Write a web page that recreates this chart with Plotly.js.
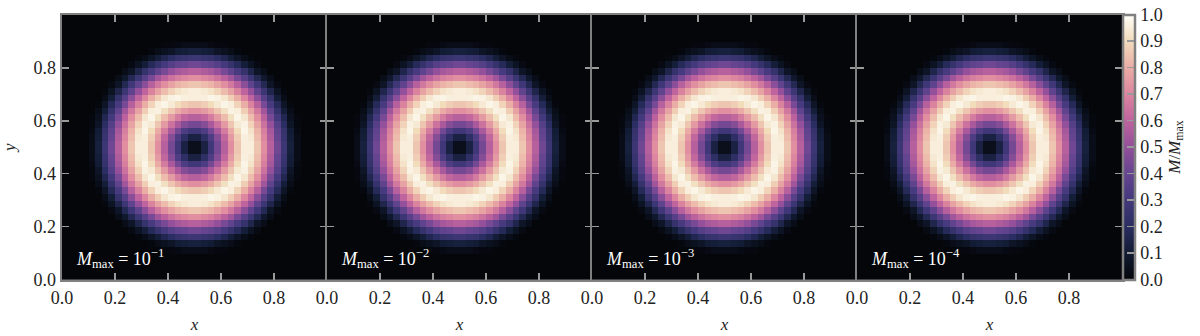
<!DOCTYPE html>
<html>
<head>
<meta charset="utf-8">
<script src="https://cdn.plot.ly/plotly-3.0.1.min.js"></script>
<style>html,body{margin:0;padding:0;background:#fff}</style>
</head>
<body>
<div id="plot" style="width:1200px;height:336px"></div>
<script>
// one quadrant of the ring, first row/column next to the centre
const quadrant = [
  [.04,.13,.28,.43,.58,.72,.85,.95,.95,.85,.72,.58,.42,.27,.12,.03,0,0,0,0],
  [.13,.21,.33,.47,.61,.75,.87,.955,.94,.83,.70,.56,.40,.25,.11,.03,0,0,0,0],
  [.28,.33,.43,.55,.67,.79,.90,.97,.92,.81,.68,.54,.38,.24,.10,.02,0,0,0,0],
  [.43,.47,.55,.64,.75,.85,.94,.96,.88,.77,.64,.50,.35,.20,.07,.01,0,0,0,0],
  [.58,.61,.67,.75,.83,.91,.97,.93,.83,.72,.59,.44,.30,.16,.05,.01,0,0,0,0],
  [.72,.75,.79,.85,.91,.96,.95,.87,.77,.66,.53,.38,.24,.11,.03,0,0,0,0,0],
  [.85,.87,.90,.94,.97,.95,.88,.80,.69,.58,.44,.31,.18,.07,.01,0,0,0,0,0],
  [.95,.955,.97,.96,.93,.87,.80,.70,.60,.48,.36,.24,.11,.03,0,0,0,0,0,0],
  [.95,.94,.92,.88,.83,.77,.69,.60,.50,.38,.27,.15,.06,.01,0,0,0,0,0,0],
  [.85,.83,.81,.77,.72,.66,.58,.48,.38,.28,.17,.07,.02,0,0,0,0,0,0,0],
  [.72,.70,.68,.64,.59,.53,.44,.36,.27,.17,.08,.03,0,0,0,0,0,0,0,0],
  [.58,.56,.54,.50,.44,.38,.31,.24,.15,.07,.03,0,0,0,0,0,0,0,0,0],
  [.42,.40,.38,.35,.30,.24,.18,.11,.06,.02,0,0,0,0,0,0,0,0,0,0],
  [.27,.25,.24,.20,.16,.11,.07,.03,.01,0,0,0,0,0,0,0,0,0,0,0],
  [.12,.11,.10,.07,.05,.03,.01,0,0,0,0,0,0,0,0,0,0,0,0,0],
  [.03,.03,.02,.01,.01,0,0,0,0,0,0,0,0,0,0,0,0,0,0,0],
  [0,0,0,0,0,0,0,0,0,0,0,0,0,0,0,0,0,0,0,0],
  [0,0,0,0,0,0,0,0,0,0,0,0,0,0,0,0,0,0,0,0],
  [0,0,0,0,0,0,0,0,0,0,0,0,0,0,0,0,0,0,0,0],
  [0,0,0,0,0,0,0,0,0,0,0,0,0,0,0,0,0,0,0,0]
];
const exponents = ['−1', '−2', '−3', '−4'];
const tickValues = [0, 0.2, 0.4, 0.6, 0.8];
const tickLabels = ['0.0', '0.2', '0.4', '0.6', '0.8'];
const barTicks = [0, 0.1, 0.2, 0.3, 0.4, 0.5, 0.6, 0.7, 0.8, 0.9, 1];
const barLabels = ['0.0', '0.1', '0.2', '0.3', '0.4', '0.5', '0.6', '0.7', '0.8', '0.9', '1.0'];
const colors = [
  [0, '#04060a'], [0.1, '#121c34'], [0.2, '#2b2e62'], [0.3, '#44397c'],
  [0.4, '#664590'], [0.5, '#94509a'], [0.6, '#bf649e'], [0.7, '#dd869f'],
  [0.8, '#ebaea6'], [0.9, '#f1dcbc'], [1, '#fffffa']
];

const W = 1200, H = 336;
const FONT = '"Liberation Serif", "Times New Roman", serif';
const GREY = '#808080';
const panelEdges = [62, 327, 592, 857, 1122];
const plotTop = 15, plotBottom = 279.5;

// the quadrant is mirrored to get the whole 40x40 field
const mirrorRow = r => r.slice().reverse().concat(r);
const field = quadrant.slice().reverse().concat(quadrant).map(mirrorRow);

const traces = [];
const annotations = [];
const layout = {
  width: W, height: H,
  margin: { l: 0, r: 0, t: 0, b: 0 },
  paper_bgcolor: '#fff',
  plot_bgcolor: '#000',
  font: { family: FONT, size: 18, color: '#222' },
  showlegend: false
};

exponents.forEach((exp, i) => {
  const n = i === 0 ? '' : i + 1;
  const trace = {
    type: 'heatmap', z: field,
    x0: 0.0125, dx: 0.025, y0: 0.0125, dy: 0.025,
    xaxis: 'x' + n, yaxis: 'y' + n,
    colorscale: colors, zmin: 0, zmax: 1,
    zsmooth: false, hoverinfo: 'skip',
    showscale: i === 3
  };
  if (i === 3) {
    trace.colorbar = {
      x: 1123 / W, xanchor: 'left', xpad: 0,
      y: (H - plotBottom) / H, yanchor: 'bottom', ypad: 0,
      thickness: 12, thicknessmode: 'pixels',
      len: plotBottom - plotTop, lenmode: 'pixels',
      outlinecolor: GREY, outlinewidth: 2.5,
      tickmode: 'array', tickvals: barTicks, ticktext: barLabels,
      ticks: 'inside', ticklen: 9, tickwidth: 1.5, tickcolor: '#9a9a9a',
      tickfont: { family: FONT, size: 18, color: '#222' },
      title: { text: '<i>M</i>/<i>M</i><sub>max</sub>', side: 'right', font: { family: FONT, size: 17, color: '#222' } }
    };
  }
  traces.push(trace);

  const axis = {
    range: [0, 1], showgrid: false, zeroline: false,
    showline: true, mirror: 'ticks', linecolor: GREY, linewidth: 2.5,
    ticks: 'inside', ticklen: 7, tickwidth: 1.5, tickcolor: '#9a9a9a',
    tickmode: 'array', tickvals: tickValues, ticktext: tickLabels,
    tickfont: { family: FONT, size: 18, color: '#222' }
  };
  layout['xaxis' + n] = Object.assign({}, axis, {
    domain: [panelEdges[i] / W, panelEdges[i + 1] / W],
    anchor: 'y' + n,
    title: { text: '<i>x</i>', standoff: 12, font: { family: FONT, size: 17, color: '#222' } }
  });
  layout['yaxis' + n] = Object.assign({}, axis, {
    domain: [(H - plotBottom) / H, (H - plotTop) / H],
    anchor: 'x' + n,
    showticklabels: i === 0,
    title: i === 0 ? { text: '<i>y</i>', standoff: 14, font: { family: FONT, size: 17, color: '#222' } } : undefined
  });

  annotations.push({
    xref: 'x' + n + ' domain', yref: 'y' + n + ' domain',
    x: 0.045, y: 0.08, xanchor: 'left', yanchor: 'middle',
    text: '<i>M</i><sub>max</sub> = 10<sup>' + exp + '</sup>',
    showarrow: false,
    font: { family: FONT, size: 18, color: '#fff' }
  });
});
layout.annotations = annotations;

Plotly.newPlot('plot', traces, layout, { displayModeBar: false, staticPlot: true });
</script>
</body>
</html>
